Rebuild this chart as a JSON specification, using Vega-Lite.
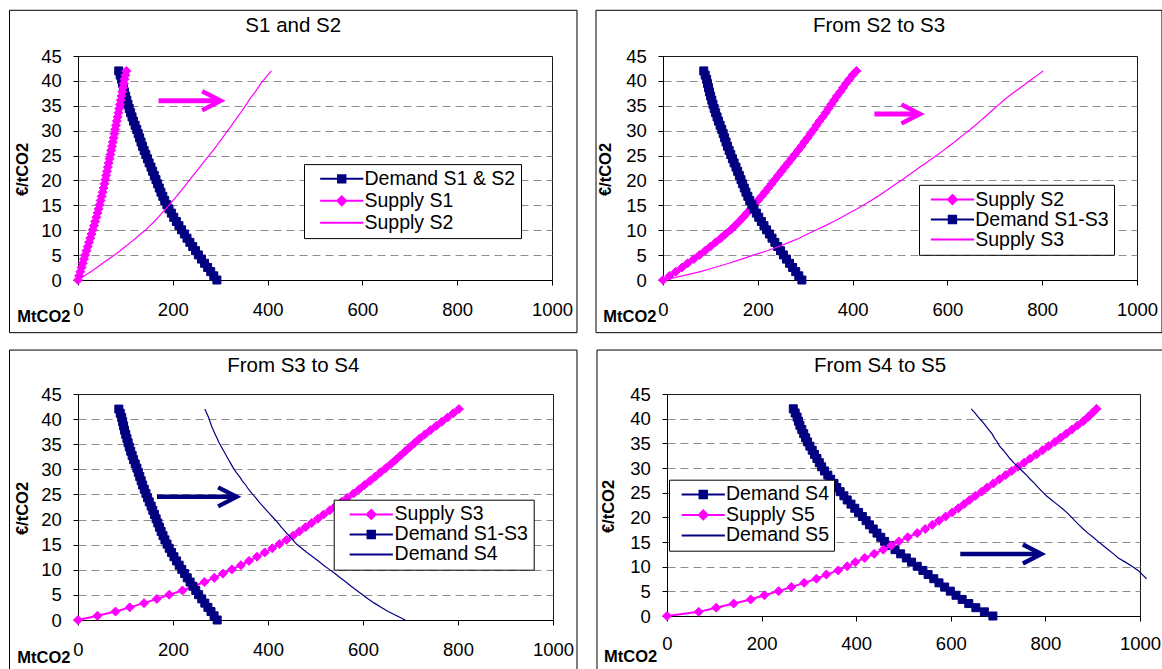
{
"$schema": "https://vega.github.io/schema/vega-lite/v6.json",
"padding": {"left": 8, "top": 9, "right": 0, "bottom": 0},
"background": "white",
"config": {
  "font": "Liberation Sans",
  "view": {"stroke": "#1a1a1a", "strokeWidth": 1, "fill": "white"},
  "axis": {"labelFont": "Liberation Sans", "labelFontSize": 18.5, "labelColor": "#000", "tickColor": "#000", "tickSize": 5, "tickWidth": 1, "domainColor": "#000", "domainWidth": 1, "titleFont": "Liberation Sans", "titleFontSize": 16.5, "titleFontWeight": "bold", "titleColor": "#000"},
  "axisX": {"grid": false, "labelFlush": false, "labelOverlap": false, "labelBaseline": "alphabetic", "titleAngle": 0, "titleAlign": "right", "titleBaseline": "alphabetic"},
  "axisY": {"grid": true, "gridDash": [8, 5], "gridWidth": 1, "labelPadding": 11.6, "labelOverlap": false, "titleAngle": -90, "titleAlign": "center", "titleBaseline": "middle"},
  "legend": {"orient": "none", "padding": 5, "fillColor": "#ffffff", "strokeColor": "#000000", "labelFont": "Liberation Sans", "labelFontSize": 19.5, "labelColor": "#000", "labelLimit": 500, "symbolStrokeWidth": 2, "symbolSize": 81},
  "title": {"font": "Liberation Sans", "fontSize": 20.5, "fontWeight": "normal", "color": "#000", "anchor": "middle", "baseline": "alphabetic", "frame": "bounds"}
},
"datasets": {
  "SS1": [{"q":0,"p":0},{"q":2.5,"p":0.84},{"q":5,"p":1.68},{"q":7.6,"p":2.52},{"q":10.1,"p":3.36},{"q":12.6,"p":4.2},{"q":15.1,"p":5.04},{"q":17.8,"p":5.88},{"q":20.5,"p":6.72},{"q":23.2,"p":7.56},{"q":25.9,"p":8.4},{"q":28.6,"p":9.24},{"q":31.2,"p":10.08},{"q":33.8,"p":10.92},{"q":36.4,"p":11.76},{"q":38.8,"p":12.6},{"q":41.2,"p":13.44},{"q":43.5,"p":14.28},{"q":45.7,"p":15.12},{"q":47.8,"p":15.96},{"q":49.9,"p":16.8},{"q":51.9,"p":17.64},{"q":53.9,"p":18.48},{"q":55.8,"p":19.32},{"q":57.6,"p":20.16},{"q":59.4,"p":21},{"q":61.2,"p":21.84},{"q":63,"p":22.68},{"q":64.8,"p":23.52},{"q":66.6,"p":24.36},{"q":68.4,"p":25.2},{"q":70.1,"p":26.04},{"q":71.8,"p":26.88},{"q":73.5,"p":27.72},{"q":75.2,"p":28.56},{"q":76.8,"p":29.4},{"q":78.5,"p":30.24},{"q":80.2,"p":31.08},{"q":81.9,"p":31.92},{"q":83.6,"p":32.76},{"q":85.3,"p":33.6},{"q":87,"p":34.44},{"q":88.6,"p":35.28},{"q":90.2,"p":36.12},{"q":91.8,"p":36.96},{"q":93.4,"p":37.8},{"q":95,"p":38.64},{"q":96.6,"p":39.48},{"q":98.2,"p":40.32},{"q":100,"p":41.16},{"q":102,"p":42}],
  "SS2": [{"q":0,"p":0},{"q":14,"p":0.84},{"q":27,"p":1.68},{"q":40,"p":2.52},{"q":52,"p":3.36},{"q":65,"p":4.2},{"q":77,"p":5.04},{"q":89,"p":5.88},{"q":100,"p":6.72},{"q":111,"p":7.56},{"q":122,"p":8.4},{"q":132,"p":9.24},{"q":143,"p":10.08},{"q":152,"p":10.92},{"q":161,"p":11.76},{"q":169,"p":12.6},{"q":177,"p":13.44},{"q":185,"p":14.28},{"q":193,"p":15.12},{"q":200,"p":15.96},{"q":208,"p":16.8},{"q":215,"p":17.64},{"q":222,"p":18.48},{"q":229,"p":19.32},{"q":236,"p":20.16},{"q":243,"p":21},{"q":250,"p":21.84},{"q":257,"p":22.68},{"q":264,"p":23.52},{"q":271,"p":24.36},{"q":278,"p":25.2},{"q":285,"p":26.04},{"q":292,"p":26.88},{"q":298,"p":27.72},{"q":305,"p":28.56},{"q":311,"p":29.4},{"q":318,"p":30.24},{"q":324,"p":31.08},{"q":330,"p":31.92},{"q":337,"p":32.76},{"q":343,"p":33.6},{"q":349,"p":34.44},{"q":355,"p":35.28},{"q":361,"p":36.12},{"q":367,"p":36.96},{"q":374,"p":37.8},{"q":380,"p":38.64},{"q":386,"p":39.48},{"q":393,"p":40.32},{"q":400,"p":41.16},{"q":408,"p":42}],
  "D13": [{"q":293,"p":0},{"q":286.5,"p":0.84},{"q":280,"p":1.68},{"q":273.5,"p":2.52},{"q":267,"p":3.36},{"q":260.5,"p":4.2},{"q":254,"p":5.04},{"q":248,"p":5.88},{"q":242,"p":6.72},{"q":236,"p":7.56},{"q":230,"p":8.4},{"q":224.5,"p":9.24},{"q":218.5,"p":10.08},{"q":213,"p":10.92},{"q":207.5,"p":11.76},{"q":202,"p":12.6},{"q":197,"p":13.44},{"q":192,"p":14.28},{"q":187.5,"p":15.12},{"q":183,"p":15.96},{"q":179,"p":16.8},{"q":175,"p":17.64},{"q":171.5,"p":18.48},{"q":168,"p":19.32},{"q":164.5,"p":20.16},{"q":161,"p":21},{"q":157.5,"p":21.84},{"q":154,"p":22.68},{"q":150,"p":23.52},{"q":146.5,"p":24.36},{"q":143,"p":25.2},{"q":139.5,"p":26.04},{"q":136,"p":26.88},{"q":133,"p":27.72},{"q":130,"p":28.56},{"q":127,"p":29.4},{"q":124,"p":30.24},{"q":120.5,"p":31.08},{"q":117,"p":31.92},{"q":114,"p":32.76},{"q":111,"p":33.6},{"q":108,"p":34.44},{"q":105.5,"p":35.28},{"q":103,"p":36.12},{"q":100.5,"p":36.96},{"q":98,"p":37.8},{"q":96,"p":38.64},{"q":94,"p":39.48},{"q":92,"p":40.32},{"q":89,"p":41.16},{"q":86,"p":42}],
  "SS3": [{"q":0,"p":0},{"q":41,"p":0.84},{"q":79,"p":1.68},{"q":109,"p":2.52},{"q":139,"p":3.36},{"q":166,"p":4.2},{"q":192,"p":5.04},{"q":220,"p":5.88},{"q":244,"p":6.72},{"q":266,"p":7.56},{"q":287,"p":8.4},{"q":305,"p":9.24},{"q":324,"p":10.08},{"q":343,"p":10.92},{"q":360,"p":11.76},{"q":377,"p":12.6},{"q":393,"p":13.44},{"q":409,"p":14.28},{"q":424,"p":15.12},{"q":439,"p":15.96},{"q":453,"p":16.8},{"q":466,"p":17.64},{"q":479,"p":18.48},{"q":492,"p":19.32},{"q":505,"p":20.16},{"q":517,"p":21},{"q":530,"p":21.84},{"q":542,"p":22.68},{"q":555,"p":23.52},{"q":567,"p":24.36},{"q":580,"p":25.2},{"q":592,"p":26.04},{"q":603,"p":26.88},{"q":615,"p":27.72},{"q":626,"p":28.56},{"q":637,"p":29.4},{"q":648,"p":30.24},{"q":659,"p":31.08},{"q":669,"p":31.92},{"q":679,"p":32.76},{"q":689,"p":33.6},{"q":699,"p":34.44},{"q":709,"p":35.28},{"q":719,"p":36.12},{"q":730,"p":36.96},{"q":742,"p":37.8},{"q":754,"p":38.64},{"q":766,"p":39.48},{"q":778,"p":40.32},{"q":790,"p":41.16},{"q":802,"p":42}],
  "D4": [{"q":689,"p":0},{"q":671,"p":0.84},{"q":653,"p":1.68},{"q":638,"p":2.52},{"q":624,"p":3.36},{"q":611,"p":4.2},{"q":599,"p":5.04},{"q":587,"p":5.88},{"q":575,"p":6.72},{"q":564,"p":7.56},{"q":552,"p":8.4},{"q":541,"p":9.24},{"q":529,"p":10.08},{"q":517,"p":10.92},{"q":506,"p":11.76},{"q":494,"p":12.6},{"q":482,"p":13.44},{"q":471,"p":14.28},{"q":460,"p":15.12},{"q":452,"p":15.96},{"q":444,"p":16.8},{"q":436,"p":17.64},{"q":428,"p":18.48},{"q":421,"p":19.32},{"q":413,"p":20.16},{"q":405,"p":21},{"q":397,"p":21.84},{"q":389,"p":22.68},{"q":381,"p":23.52},{"q":374,"p":24.36},{"q":366,"p":25.2},{"q":359,"p":26.04},{"q":353,"p":26.88},{"q":346,"p":27.72},{"q":340,"p":28.56},{"q":333,"p":29.4},{"q":327,"p":30.24},{"q":322,"p":31.08},{"q":317,"p":31.92},{"q":312,"p":32.76},{"q":307,"p":33.6},{"q":302,"p":34.44},{"q":297,"p":35.28},{"q":293,"p":36.12},{"q":289,"p":36.96},{"q":285,"p":37.8},{"q":281,"p":38.64},{"q":278,"p":39.48},{"q":275,"p":40.32},{"q":271,"p":41.16},{"q":267,"p":42}],
  "SS5": [{"q":0,"p":0},{"q":67,"p":0.84},{"q":104,"p":1.68},{"q":141,"p":2.52},{"q":177,"p":3.36},{"q":206,"p":4.2},{"q":236,"p":5.04},{"q":263,"p":5.88},{"q":290,"p":6.72},{"q":316,"p":7.56},{"q":337,"p":8.4},{"q":362,"p":9.24},{"q":381,"p":10.08},{"q":398,"p":10.92},{"q":418,"p":11.76},{"q":438,"p":12.6},{"q":457,"p":13.44},{"q":474,"p":14.28},{"q":490,"p":15.12},{"q":509,"p":15.96},{"q":529,"p":16.8},{"q":546,"p":17.64},{"q":561,"p":18.48},{"q":575,"p":19.32},{"q":589,"p":20.16},{"q":603,"p":21},{"q":616,"p":21.84},{"q":628,"p":22.68},{"q":640,"p":23.52},{"q":652,"p":24.36},{"q":665,"p":25.2},{"q":677,"p":26.04},{"q":690,"p":26.88},{"q":703,"p":27.72},{"q":716,"p":28.56},{"q":729,"p":29.4},{"q":742,"p":30.24},{"q":755,"p":31.08},{"q":768,"p":31.92},{"q":781,"p":32.76},{"q":794,"p":33.6},{"q":807,"p":34.44},{"q":820,"p":35.28},{"q":832,"p":36.12},{"q":844,"p":36.96},{"q":856,"p":37.8},{"q":868,"p":38.64},{"q":880,"p":39.48},{"q":890,"p":40.32},{"q":899,"p":41.16},{"q":908,"p":42}],
  "D5": [{"q":1014,"p":7.56},{"q":1005,"p":8.4},{"q":996,"p":9.24},{"q":983,"p":10.08},{"q":969,"p":10.92},{"q":954,"p":11.76},{"q":944,"p":12.6},{"q":933,"p":13.44},{"q":922,"p":14.28},{"q":911,"p":15.12},{"q":901,"p":15.96},{"q":890,"p":16.8},{"q":880,"p":17.64},{"q":871,"p":18.48},{"q":862,"p":19.32},{"q":854,"p":20.16},{"q":845,"p":21},{"q":835,"p":21.84},{"q":824,"p":22.68},{"q":813,"p":23.52},{"q":802,"p":24.36},{"q":793,"p":25.2},{"q":785,"p":26.04},{"q":777,"p":26.88},{"q":768,"p":27.72},{"q":760,"p":28.56},{"q":751,"p":29.4},{"q":742,"p":30.24},{"q":733,"p":31.08},{"q":725,"p":31.92},{"q":718,"p":32.76},{"q":711,"p":33.6},{"q":703,"p":34.44},{"q":698,"p":35.28},{"q":692,"p":36.12},{"q":687,"p":36.96},{"q":680,"p":37.8},{"q":673,"p":38.64},{"q":666,"p":39.48},{"q":658,"p":40.32},{"q":651,"p":41.16},{"q":643,"p":42}]
},
"spacing": 15,
"resolve": {"scale": {"fill": "independent", "stroke": "independent", "shape": "independent"}, "legend": {"fill": "independent", "stroke": "independent", "shape": "independent"}},
"vconcat": [
{"hconcat": [
{
  "width": 474, "height": 224,
  "title": {"text": "S1 and S2", "offset": -26.5},
  "layer": [
    {"data": {"values": [{}]}, "mark": {"type": "rect", "filled": false, "color": "#000", "strokeWidth": 1}, "encoding": {"x": {"datum": -144.5, "axis": {"title": "MtCO2", "values": [0, 200, 400, 600, 800, 1000], "format": "d", "labelPadding": 30.9, "titleX": -8, "titleY": 41}}, "x2": {"datum": 1052.7}, "y": {"datum": 54.18, "axis": {"title": "€/tCO2", "values": [0, 5, 10, 15, 20, 25, 30, 35, 40, 45], "format": "d", "titleX": -56, "titleY": 113, "gridColor": {"condition": {"test": "datum.value == 0 || datum.value == 45", "value": "transparent"}, "value": "#8c8c8c"}}}, "y2": {"datum": -10.58}}},
    {"data": {"name": "D13"}, "mark": {"type": "line", "color": "#000080", "strokeWidth": 2}, "encoding": {
      "x": {"field": "q", "type": "quantitative", "scale": {"domain": [0, 1000], "nice": false, "zero": false}, "axis": {"title": "MtCO2", "values": [0, 200, 400, 600, 800, 1000], "format": "d", "labelPadding": 30.9, "titleX": -8, "titleY": 41}},
      "y": {"field": "p", "type": "quantitative", "scale": {"domain": [0, 45], "nice": false, "zero": false}, "axis": {"title": "€/tCO2", "values": [0, 5, 10, 15, 20, 25, 30, 35, 40, 45], "format": "d", "titleX": -56, "titleY": 113, "gridColor": {"condition": {"test": "datum.value == 0 || datum.value == 45", "value": "transparent"}, "value": "#8c8c8c"}}},
      "order": {"field": "p", "type": "quantitative"}}},
    {"data": {"name": "D13"}, "mark": {"type": "point", "shape": "square", "filled": true, "size": 64, "color": "#000080", "stroke": "#000080", "strokeWidth": 1, "opacity": 1}, "encoding": {"x": {"field": "q", "type": "quantitative", "axis": {"title": "MtCO2", "values": [0, 200, 400, 600, 800, 1000], "format": "d", "labelPadding": 30.9, "titleX": -8, "titleY": 41}}, "y": {"field": "p", "type": "quantitative", "axis": {"title": "€/tCO2", "values": [0, 5, 10, 15, 20, 25, 30, 35, 40, 45], "format": "d", "titleX": -56, "titleY": 113, "gridColor": {"condition": {"test": "datum.value == 0 || datum.value == 45", "value": "transparent"}, "value": "#8c8c8c"}}}}},
    {"data": {"name": "SS1"}, "mark": {"type": "line", "color": "#ff00ff", "strokeWidth": 2}, "encoding": {"x": {"field": "q", "type": "quantitative", "axis": {"title": "MtCO2", "values": [0, 200, 400, 600, 800, 1000], "format": "d", "labelPadding": 30.9, "titleX": -8, "titleY": 41}}, "y": {"field": "p", "type": "quantitative", "axis": {"title": "€/tCO2", "values": [0, 5, 10, 15, 20, 25, 30, 35, 40, 45], "format": "d", "titleX": -56, "titleY": 113, "gridColor": {"condition": {"test": "datum.value == 0 || datum.value == 45", "value": "transparent"}, "value": "#8c8c8c"}}}, "order": {"field": "p", "type": "quantitative"}}},
    {"data": {"name": "SS1"}, "mark": {"type": "point", "shape": "diamond", "filled": true, "size": 81, "color": "#ff00ff", "stroke": "#ff00ff", "strokeWidth": 1, "opacity": 1}, "encoding": {"x": {"field": "q", "type": "quantitative", "axis": {"title": "MtCO2", "values": [0, 200, 400, 600, 800, 1000], "format": "d", "labelPadding": 30.9, "titleX": -8, "titleY": 41}}, "y": {"field": "p", "type": "quantitative", "axis": {"title": "€/tCO2", "values": [0, 5, 10, 15, 20, 25, 30, 35, 40, 45], "format": "d", "titleX": -56, "titleY": 113, "gridColor": {"condition": {"test": "datum.value == 0 || datum.value == 45", "value": "transparent"}, "value": "#8c8c8c"}}}}},
    {"data": {"name": "SS2"}, "mark": {"type": "line", "color": "#ff00ff", "strokeWidth": 1.2}, "encoding": {"x": {"field": "q", "type": "quantitative", "axis": {"title": "MtCO2", "values": [0, 200, 400, 600, 800, 1000], "format": "d", "labelPadding": 30.9, "titleX": -8, "titleY": 41}}, "y": {"field": "p", "type": "quantitative", "axis": {"title": "€/tCO2", "values": [0, 5, 10, 15, 20, 25, 30, 35, 40, 45], "format": "d", "titleX": -56, "titleY": 113, "gridColor": {"condition": {"test": "datum.value == 0 || datum.value == 45", "value": "transparent"}, "value": "#8c8c8c"}}}, "order": {"field": "p", "type": "quantitative"}}},
    {"data": {"values": [{}]}, "mark": {"type": "rule", "color": "#ff00ff", "strokeWidth": 5, "strokeCap": "butt"}, "encoding": {"x": {"datum": 170, "axis": {"title": "MtCO2", "values": [0, 200, 400, 600, 800, 1000], "format": "d", "labelPadding": 30.9, "titleX": -8, "titleY": 41}}, "x2": {"datum": 298}, "y": {"datum": 36.0, "axis": {"title": "€/tCO2", "values": [0, 5, 10, 15, 20, 25, 30, 35, 40, 45], "format": "d", "titleX": -56, "titleY": 113, "gridColor": {"condition": {"test": "datum.value == 0 || datum.value == 45", "value": "transparent"}, "value": "#8c8c8c"}}}}},
    {"data": {"values": [{}]}, "mark": {"type": "point", "shape": "M-1.85,-0.95L0,0L-1.85,0.95", "size": 400, "filled": false, "color": "#ff00ff", "strokeWidth": 4.5, "strokeJoin": "miter", "opacity": 1}, "encoding": {"x": {"datum": 301, "axis": {"title": "MtCO2", "values": [0, 200, 400, 600, 800, 1000], "format": "d", "labelPadding": 30.9, "titleX": -8, "titleY": 41}}, "y": {"datum": 36.0, "axis": {"title": "€/tCO2", "values": [0, 5, 10, 15, 20, 25, 30, 35, 40, 45], "format": "d", "titleX": -56, "titleY": 113, "gridColor": {"condition": {"test": "datum.value == 0 || datum.value == 45", "value": "transparent"}, "value": "#8c8c8c"}}}}},
    {"data": {"values": []}, "mark": {"type": "point", "filled": true, "opacity": 1, "size": 81, "strokeWidth": 2},
     "encoding": {
      "x": {"field": "q", "type": "quantitative", "axis": {"title": "MtCO2", "values": [0, 200, 400, 600, 800, 1000], "format": "d", "labelPadding": 30.9, "titleX": -8, "titleY": 41}}, "y": {"field": "p", "type": "quantitative", "axis": {"title": "€/tCO2", "values": [0, 5, 10, 15, 20, 25, 30, 35, 40, 45], "format": "d", "titleX": -56, "titleY": 113, "gridColor": {"condition": {"test": "datum.value == 0 || datum.value == 45", "value": "transparent"}, "value": "#8c8c8c"}}},
      "fill": {"field": "s", "type": "nominal", "scale": {"domain": ["Demand S1 & S2", "Supply S1", "Supply S2"], "range": ["#000080", "#ff00ff", "#ff00ff"]}, "legend": {"title": null, "legendX": 226, "legendY": 108.1, "symbolOffset": 23, "labelOffset": 13, "rowPadding": 1}},
      "stroke": {"field": "s", "type": "nominal", "scale": {"domain": ["Demand S1 & S2", "Supply S1", "Supply S2"], "range": ["#000080", "#ff00ff", "#ff00ff"]}, "legend": {"title": null, "legendX": 226, "legendY": 108.1, "symbolOffset": 23, "labelOffset": 13, "rowPadding": 1}},
      "shape": {"field": "s", "type": "nominal", "scale": {"domain": ["Demand S1 & S2", "Supply S1", "Supply S2"], "range": ["M-4.8,0H4.8M-0.82,-0.82H0.82V0.82H-0.82Z", "M-4.8,0H4.8M0,-1L1,0L0,1L-1,0Z", "M-4.8,0H4.8"]}, "legend": {"title": null, "legendX": 226, "legendY": 108.1, "symbolOffset": 23, "labelOffset": 13, "rowPadding": 1}}
     }}
  ]
},
{
  "width": 474, "height": 224,
  "title": {"text": "From S2 to S3", "offset": -26.5},
  "layer": [
    {"data": {"values": [{}]}, "mark": {"type": "rect", "filled": false, "color": "#000", "strokeWidth": 1}, "encoding": {"x": {"datum": -141.35, "axis": {"title": "MtCO2", "values": [0, 200, 400, 600, 800, 1000], "format": "d", "labelPadding": 30.6, "titleX": -7, "titleY": 41}}, "x2": {"datum": 1052.7}, "y": {"datum": 54.18, "axis": {"title": "€/tCO2", "values": [0, 5, 10, 15, 20, 25, 30, 35, 40, 45], "format": "d", "titleX": -57.3, "titleY": 113, "gridColor": {"condition": {"test": "datum.value == 0 || datum.value == 45", "value": "transparent"}, "value": "#8c8c8c"}}}, "y2": {"datum": -10.58}}},
    {"data": {"name": "SS2"}, "mark": {"type": "line", "color": "#ff00ff", "strokeWidth": 2}, "encoding": {
      "x": {"field": "q", "type": "quantitative", "scale": {"domain": [0, 1000], "nice": false, "zero": false}, "axis": {"title": "MtCO2", "values": [0, 200, 400, 600, 800, 1000], "format": "d", "labelPadding": 30.6, "titleX": -7, "titleY": 41}},
      "y": {"field": "p", "type": "quantitative", "scale": {"domain": [0, 45], "nice": false, "zero": false}, "axis": {"title": "€/tCO2", "values": [0, 5, 10, 15, 20, 25, 30, 35, 40, 45], "format": "d", "titleX": -57.3, "titleY": 113, "gridColor": {"condition": {"test": "datum.value == 0 || datum.value == 45", "value": "transparent"}, "value": "#8c8c8c"}}},
      "order": {"field": "p", "type": "quantitative"}}},
    {"data": {"name": "SS2"}, "mark": {"type": "point", "shape": "diamond", "filled": true, "size": 81, "color": "#ff00ff", "stroke": "#ff00ff", "strokeWidth": 1, "opacity": 1}, "encoding": {"x": {"field": "q", "type": "quantitative", "axis": {"title": "MtCO2", "values": [0, 200, 400, 600, 800, 1000], "format": "d", "labelPadding": 30.6, "titleX": -7, "titleY": 41}}, "y": {"field": "p", "type": "quantitative", "axis": {"title": "€/tCO2", "values": [0, 5, 10, 15, 20, 25, 30, 35, 40, 45], "format": "d", "titleX": -57.3, "titleY": 113, "gridColor": {"condition": {"test": "datum.value == 0 || datum.value == 45", "value": "transparent"}, "value": "#8c8c8c"}}}}},
    {"data": {"name": "D13"}, "mark": {"type": "line", "color": "#000080", "strokeWidth": 2}, "encoding": {"x": {"field": "q", "type": "quantitative", "axis": {"title": "MtCO2", "values": [0, 200, 400, 600, 800, 1000], "format": "d", "labelPadding": 30.6, "titleX": -7, "titleY": 41}}, "y": {"field": "p", "type": "quantitative", "axis": {"title": "€/tCO2", "values": [0, 5, 10, 15, 20, 25, 30, 35, 40, 45], "format": "d", "titleX": -57.3, "titleY": 113, "gridColor": {"condition": {"test": "datum.value == 0 || datum.value == 45", "value": "transparent"}, "value": "#8c8c8c"}}}, "order": {"field": "p", "type": "quantitative"}}},
    {"data": {"name": "D13"}, "mark": {"type": "point", "shape": "square", "filled": true, "size": 64, "color": "#000080", "stroke": "#000080", "strokeWidth": 1, "opacity": 1}, "encoding": {"x": {"field": "q", "type": "quantitative", "axis": {"title": "MtCO2", "values": [0, 200, 400, 600, 800, 1000], "format": "d", "labelPadding": 30.6, "titleX": -7, "titleY": 41}}, "y": {"field": "p", "type": "quantitative", "axis": {"title": "€/tCO2", "values": [0, 5, 10, 15, 20, 25, 30, 35, 40, 45], "format": "d", "titleX": -57.3, "titleY": 113, "gridColor": {"condition": {"test": "datum.value == 0 || datum.value == 45", "value": "transparent"}, "value": "#8c8c8c"}}}}},
    {"data": {"name": "SS3"}, "mark": {"type": "line", "color": "#ff00ff", "strokeWidth": 1.2}, "encoding": {"x": {"field": "q", "type": "quantitative", "axis": {"title": "MtCO2", "values": [0, 200, 400, 600, 800, 1000], "format": "d", "labelPadding": 30.6, "titleX": -7, "titleY": 41}}, "y": {"field": "p", "type": "quantitative", "axis": {"title": "€/tCO2", "values": [0, 5, 10, 15, 20, 25, 30, 35, 40, 45], "format": "d", "titleX": -57.3, "titleY": 113, "gridColor": {"condition": {"test": "datum.value == 0 || datum.value == 45", "value": "transparent"}, "value": "#8c8c8c"}}}, "order": {"field": "p", "type": "quantitative"}}},
    {"data": {"values": [{}]}, "mark": {"type": "rule", "color": "#ff00ff", "strokeWidth": 5, "strokeCap": "butt"}, "encoding": {"x": {"datum": 446, "axis": {"title": "MtCO2", "values": [0, 200, 400, 600, 800, 1000], "format": "d", "labelPadding": 30.6, "titleX": -7, "titleY": 41}}, "x2": {"datum": 540}, "y": {"datum": 33.37, "axis": {"title": "€/tCO2", "values": [0, 5, 10, 15, 20, 25, 30, 35, 40, 45], "format": "d", "titleX": -57.3, "titleY": 113, "gridColor": {"condition": {"test": "datum.value == 0 || datum.value == 45", "value": "transparent"}, "value": "#8c8c8c"}}}}},
    {"data": {"values": [{}]}, "mark": {"type": "point", "shape": "M-1.85,-0.95L0,0L-1.85,0.95", "size": 400, "filled": false, "color": "#ff00ff", "strokeWidth": 4.5, "strokeJoin": "miter", "opacity": 1}, "encoding": {"x": {"datum": 542, "axis": {"title": "MtCO2", "values": [0, 200, 400, 600, 800, 1000], "format": "d", "labelPadding": 30.6, "titleX": -7, "titleY": 41}}, "y": {"datum": 33.37, "axis": {"title": "€/tCO2", "values": [0, 5, 10, 15, 20, 25, 30, 35, 40, 45], "format": "d", "titleX": -57.3, "titleY": 113, "gridColor": {"condition": {"test": "datum.value == 0 || datum.value == 45", "value": "transparent"}, "value": "#8c8c8c"}}}}},
    {"data": {"values": []}, "mark": {"type": "point", "filled": true, "opacity": 1, "size": 81, "strokeWidth": 2},
     "encoding": {
      "x": {"field": "q", "type": "quantitative", "axis": {"title": "MtCO2", "values": [0, 200, 400, 600, 800, 1000], "format": "d", "labelPadding": 30.6, "titleX": -7, "titleY": 41}}, "y": {"field": "p", "type": "quantitative", "axis": {"title": "€/tCO2", "values": [0, 5, 10, 15, 20, 25, 30, 35, 40, 45], "format": "d", "titleX": -57.3, "titleY": 113, "gridColor": {"condition": {"test": "datum.value == 0 || datum.value == 45", "value": "transparent"}, "value": "#8c8c8c"}}},
      "fill": {"field": "s", "type": "nominal", "scale": {"domain": ["Supply S2", "Demand S1-S3", "Supply S3"], "range": ["#ff00ff", "#000080", "#ff00ff"]}, "legend": {"title": null, "legendX": 256, "legendY": 128.8, "symbolOffset": 18.7, "labelOffset": 13, "rowPadding": -2}},
      "stroke": {"field": "s", "type": "nominal", "scale": {"domain": ["Supply S2", "Demand S1-S3", "Supply S3"], "range": ["#ff00ff", "#000080", "#ff00ff"]}, "legend": {"title": null, "legendX": 256, "legendY": 128.8, "symbolOffset": 18.7, "labelOffset": 13, "rowPadding": -2}},
      "shape": {"field": "s", "type": "nominal", "scale": {"domain": ["Supply S2", "Demand S1-S3", "Supply S3"], "range": ["M-4.8,0H4.8M0,-1L1,0L0,1L-1,0Z", "M-4.8,0H4.8M-0.82,-0.82H0.82V0.82H-0.82Z", "M-4.8,0H4.8"]}, "legend": {"title": null, "legendX": 256, "legendY": 128.8, "symbolOffset": 18.7, "labelOffset": 13, "rowPadding": -2}}
     }}
  ]
}
], "spacing": 17,
"resolve": {"scale": {"fill": "independent", "stroke": "independent", "shape": "independent"}, "legend": {"fill": "independent", "stroke": "independent", "shape": "independent"}}},
{"hconcat": [
{
  "width": 475, "height": 226,
  "title": {"text": "From S3 to S4", "offset": -26.5},
  "layer": [
    {"data": {"values": [{}]}, "mark": {"type": "rule", "color": "#000", "strokeWidth": 1}, "encoding": {"x": {"datum": -144.2, "axis": {"title": "MtCO2", "values": [0, 200, 400, 600, 800, 1000], "format": "d", "labelPadding": 30.3, "titleX": -8, "titleY": 42}}, "y": {"datum": -9.84, "axis": {"title": "€/tCO2", "values": [0, 5, 10, 15, 20, 25, 30, 35, 40, 45], "format": "d", "titleX": -56, "titleY": 114, "gridColor": {"condition": {"test": "datum.value == 0 || datum.value == 45", "value": "transparent"}, "value": "#8c8c8c"}}}, "y2": {"datum": 53.75}}},
    {"data": {"values": [{}]}, "mark": {"type": "rule", "color": "#000", "strokeWidth": 1}, "encoding": {"x": {"datum": 1050.5, "axis": {"title": "MtCO2", "values": [0, 200, 400, 600, 800, 1000], "format": "d", "labelPadding": 30.3, "titleX": -8, "titleY": 42}}, "y": {"datum": -9.84, "axis": {"title": "€/tCO2", "values": [0, 5, 10, 15, 20, 25, 30, 35, 40, 45], "format": "d", "titleX": -56, "titleY": 114, "gridColor": {"condition": {"test": "datum.value == 0 || datum.value == 45", "value": "transparent"}, "value": "#8c8c8c"}}}, "y2": {"datum": 53.75}}},
    {"data": {"values": [{}]}, "mark": {"type": "rule", "color": "#000", "strokeWidth": 1}, "encoding": {"x": {"datum": -144.2, "axis": {"title": "MtCO2", "values": [0, 200, 400, 600, 800, 1000], "format": "d", "labelPadding": 30.3, "titleX": -8, "titleY": 42}}, "x2": {"datum": 1050.5}, "y": {"datum": 53.75, "axis": {"title": "€/tCO2", "values": [0, 5, 10, 15, 20, 25, 30, 35, 40, 45], "format": "d", "titleX": -56, "titleY": 114, "gridColor": {"condition": {"test": "datum.value == 0 || datum.value == 45", "value": "transparent"}, "value": "#8c8c8c"}}}}},
    {"data": {"name": "SS3"}, "mark": {"type": "line", "color": "#ff00ff", "strokeWidth": 2}, "encoding": {
      "x": {"field": "q", "type": "quantitative", "scale": {"domain": [0, 1000], "nice": false, "zero": false}, "axis": {"title": "MtCO2", "values": [0, 200, 400, 600, 800, 1000], "format": "d", "labelPadding": 30.3, "titleX": -8, "titleY": 42}},
      "y": {"field": "p", "type": "quantitative", "scale": {"domain": [0, 45], "nice": false, "zero": false}, "axis": {"title": "€/tCO2", "values": [0, 5, 10, 15, 20, 25, 30, 35, 40, 45], "format": "d", "titleX": -56, "titleY": 114, "gridColor": {"condition": {"test": "datum.value == 0 || datum.value == 45", "value": "transparent"}, "value": "#8c8c8c"}}},
      "order": {"field": "p", "type": "quantitative"}}},
    {"data": {"name": "SS3"}, "mark": {"type": "point", "shape": "diamond", "filled": true, "size": 81, "color": "#ff00ff", "stroke": "#ff00ff", "strokeWidth": 1, "opacity": 1}, "encoding": {"x": {"field": "q", "type": "quantitative", "axis": {"title": "MtCO2", "values": [0, 200, 400, 600, 800, 1000], "format": "d", "labelPadding": 30.3, "titleX": -8, "titleY": 42}}, "y": {"field": "p", "type": "quantitative", "axis": {"title": "€/tCO2", "values": [0, 5, 10, 15, 20, 25, 30, 35, 40, 45], "format": "d", "titleX": -56, "titleY": 114, "gridColor": {"condition": {"test": "datum.value == 0 || datum.value == 45", "value": "transparent"}, "value": "#8c8c8c"}}}}},
    {"data": {"name": "D13"}, "mark": {"type": "line", "color": "#000080", "strokeWidth": 2}, "encoding": {"x": {"field": "q", "type": "quantitative", "axis": {"title": "MtCO2", "values": [0, 200, 400, 600, 800, 1000], "format": "d", "labelPadding": 30.3, "titleX": -8, "titleY": 42}}, "y": {"field": "p", "type": "quantitative", "axis": {"title": "€/tCO2", "values": [0, 5, 10, 15, 20, 25, 30, 35, 40, 45], "format": "d", "titleX": -56, "titleY": 114, "gridColor": {"condition": {"test": "datum.value == 0 || datum.value == 45", "value": "transparent"}, "value": "#8c8c8c"}}}, "order": {"field": "p", "type": "quantitative"}}},
    {"data": {"name": "D13"}, "mark": {"type": "point", "shape": "square", "filled": true, "size": 64, "color": "#000080", "stroke": "#000080", "strokeWidth": 1, "opacity": 1}, "encoding": {"x": {"field": "q", "type": "quantitative", "axis": {"title": "MtCO2", "values": [0, 200, 400, 600, 800, 1000], "format": "d", "labelPadding": 30.3, "titleX": -8, "titleY": 42}}, "y": {"field": "p", "type": "quantitative", "axis": {"title": "€/tCO2", "values": [0, 5, 10, 15, 20, 25, 30, 35, 40, 45], "format": "d", "titleX": -56, "titleY": 114, "gridColor": {"condition": {"test": "datum.value == 0 || datum.value == 45", "value": "transparent"}, "value": "#8c8c8c"}}}}},
    {"data": {"name": "D4"}, "mark": {"type": "line", "color": "#000080", "strokeWidth": 1.2}, "encoding": {"x": {"field": "q", "type": "quantitative", "axis": {"title": "MtCO2", "values": [0, 200, 400, 600, 800, 1000], "format": "d", "labelPadding": 30.3, "titleX": -8, "titleY": 42}}, "y": {"field": "p", "type": "quantitative", "axis": {"title": "€/tCO2", "values": [0, 5, 10, 15, 20, 25, 30, 35, 40, 45], "format": "d", "titleX": -56, "titleY": 114, "gridColor": {"condition": {"test": "datum.value == 0 || datum.value == 45", "value": "transparent"}, "value": "#8c8c8c"}}}, "order": {"field": "p", "type": "quantitative"}}},
    {"data": {"values": [{}]}, "mark": {"type": "rule", "color": "#000080", "strokeWidth": 4.5, "strokeCap": "butt"}, "encoding": {"x": {"datum": 166.3, "axis": {"title": "MtCO2", "values": [0, 200, 400, 600, 800, 1000], "format": "d", "labelPadding": 30.3, "titleX": -8, "titleY": 42}}, "x2": {"datum": 332}, "y": {"datum": 24.52, "axis": {"title": "€/tCO2", "values": [0, 5, 10, 15, 20, 25, 30, 35, 40, 45], "format": "d", "titleX": -56, "titleY": 114, "gridColor": {"condition": {"test": "datum.value == 0 || datum.value == 45", "value": "transparent"}, "value": "#8c8c8c"}}}}},
    {"data": {"values": [{}]}, "mark": {"type": "point", "shape": "M-1.85,-0.95L0,0L-1.85,0.95", "size": 400, "filled": false, "color": "#000080", "strokeWidth": 4.3, "strokeJoin": "miter", "opacity": 1}, "encoding": {"x": {"datum": 334, "axis": {"title": "MtCO2", "values": [0, 200, 400, 600, 800, 1000], "format": "d", "labelPadding": 30.3, "titleX": -8, "titleY": 42}}, "y": {"datum": 24.52, "axis": {"title": "€/tCO2", "values": [0, 5, 10, 15, 20, 25, 30, 35, 40, 45], "format": "d", "titleX": -56, "titleY": 114, "gridColor": {"condition": {"test": "datum.value == 0 || datum.value == 45", "value": "transparent"}, "value": "#8c8c8c"}}}}},
    {"data": {"values": []}, "mark": {"type": "point", "filled": true, "opacity": 1, "size": 81, "strokeWidth": 2},
     "encoding": {
      "x": {"field": "q", "type": "quantitative", "axis": {"title": "MtCO2", "values": [0, 200, 400, 600, 800, 1000], "format": "d", "labelPadding": 30.3, "titleX": -8, "titleY": 42}}, "y": {"field": "p", "type": "quantitative", "axis": {"title": "€/tCO2", "values": [0, 5, 10, 15, 20, 25, 30, 35, 40, 45], "format": "d", "titleX": -56, "titleY": 114, "gridColor": {"condition": {"test": "datum.value == 0 || datum.value == 45", "value": "transparent"}, "value": "#8c8c8c"}}},
      "fill": {"field": "s", "type": "nominal", "scale": {"domain": ["Supply S3", "Demand S1-S3", "Demand S4"], "range": ["#ff00ff", "#000080", "#000080"]}, "legend": {"title": null, "legendX": 255.7, "legendY": 105.7, "symbolOffset": 22.8, "labelOffset": 13.6, "rowPadding": -2.7}},
      "stroke": {"field": "s", "type": "nominal", "scale": {"domain": ["Supply S3", "Demand S1-S3", "Demand S4"], "range": ["#ff00ff", "#000080", "#000080"]}, "legend": {"title": null, "legendX": 255.7, "legendY": 105.7, "symbolOffset": 22.8, "labelOffset": 13.6, "rowPadding": -2.7}},
      "shape": {"field": "s", "type": "nominal", "scale": {"domain": ["Supply S3", "Demand S1-S3", "Demand S4"], "range": ["M-4.8,0H4.8M0,-1L1,0L0,1L-1,0Z", "M-4.8,0H4.8M-0.82,-0.82H0.82V0.82H-0.82Z", "M-4.8,0H4.8"]}, "legend": {"title": null, "legendX": 255.7, "legendY": 105.7, "symbolOffset": 22.8, "labelOffset": 13.6, "rowPadding": -2.7}}
     }}
  ]
},
{
  "width": 473, "height": 222,
  "title": {"text": "From S4 to S5", "offset": -26.5},
  "layer": [
    {"data": {"values": [{}]}, "mark": {"type": "rule", "color": "#000", "strokeWidth": 1}, "encoding": {"x": {"datum": -148.0, "axis": {"title": "MtCO2", "values": [0, 200, 400, 600, 800, 1000], "format": "d", "labelPadding": 28.6, "titleX": -10.3, "titleY": 45.3}}, "y": {"datum": -10.83, "axis": {"title": "€/tCO2", "values": [0, 5, 10, 15, 20, 25, 30, 35, 40, 45], "format": "d", "titleX": -58.4, "titleY": 112, "gridColor": {"condition": {"test": "datum.value == 0 || datum.value == 45", "value": "transparent"}, "value": "#8c8c8c"}}}, "y2": {"datum": 53.91}}},
    {"data": {"values": [{}]}, "mark": {"type": "rule", "color": "#000", "strokeWidth": 1}, "encoding": {"x": {"datum": 1048.6, "axis": {"title": "MtCO2", "values": [0, 200, 400, 600, 800, 1000], "format": "d", "labelPadding": 28.6, "titleX": -10.3, "titleY": 45.3}}, "y": {"datum": -10.83, "axis": {"title": "€/tCO2", "values": [0, 5, 10, 15, 20, 25, 30, 35, 40, 45], "format": "d", "titleX": -58.4, "titleY": 112, "gridColor": {"condition": {"test": "datum.value == 0 || datum.value == 45", "value": "transparent"}, "value": "#8c8c8c"}}}, "y2": {"datum": 53.91}}},
    {"data": {"values": [{}]}, "mark": {"type": "rule", "color": "#000", "strokeWidth": 1}, "encoding": {"x": {"datum": -148.0, "axis": {"title": "MtCO2", "values": [0, 200, 400, 600, 800, 1000], "format": "d", "labelPadding": 28.6, "titleX": -10.3, "titleY": 45.3}}, "x2": {"datum": 1048.6}, "y": {"datum": 53.91, "axis": {"title": "€/tCO2", "values": [0, 5, 10, 15, 20, 25, 30, 35, 40, 45], "format": "d", "titleX": -58.4, "titleY": 112, "gridColor": {"condition": {"test": "datum.value == 0 || datum.value == 45", "value": "transparent"}, "value": "#8c8c8c"}}}}},
    {"data": {"name": "D4"}, "mark": {"type": "line", "color": "#000080", "strokeWidth": 2}, "encoding": {
      "x": {"field": "q", "type": "quantitative", "scale": {"domain": [0, 1000], "nice": false, "zero": false}, "axis": {"title": "MtCO2", "values": [0, 200, 400, 600, 800, 1000], "format": "d", "labelPadding": 28.6, "titleX": -10.3, "titleY": 45.3}},
      "y": {"field": "p", "type": "quantitative", "scale": {"domain": [0, 45], "nice": false, "zero": false}, "axis": {"title": "€/tCO2", "values": [0, 5, 10, 15, 20, 25, 30, 35, 40, 45], "format": "d", "titleX": -58.4, "titleY": 112, "gridColor": {"condition": {"test": "datum.value == 0 || datum.value == 45", "value": "transparent"}, "value": "#8c8c8c"}}},
      "order": {"field": "p", "type": "quantitative"}}},
    {"data": {"name": "D4"}, "mark": {"type": "point", "shape": "square", "filled": true, "size": 64, "color": "#000080", "stroke": "#000080", "strokeWidth": 1, "opacity": 1}, "encoding": {"x": {"field": "q", "type": "quantitative", "axis": {"title": "MtCO2", "values": [0, 200, 400, 600, 800, 1000], "format": "d", "labelPadding": 28.6, "titleX": -10.3, "titleY": 45.3}}, "y": {"field": "p", "type": "quantitative", "axis": {"title": "€/tCO2", "values": [0, 5, 10, 15, 20, 25, 30, 35, 40, 45], "format": "d", "titleX": -58.4, "titleY": 112, "gridColor": {"condition": {"test": "datum.value == 0 || datum.value == 45", "value": "transparent"}, "value": "#8c8c8c"}}}}},
    {"data": {"name": "SS5"}, "mark": {"type": "line", "color": "#ff00ff", "strokeWidth": 2}, "encoding": {"x": {"field": "q", "type": "quantitative", "axis": {"title": "MtCO2", "values": [0, 200, 400, 600, 800, 1000], "format": "d", "labelPadding": 28.6, "titleX": -10.3, "titleY": 45.3}}, "y": {"field": "p", "type": "quantitative", "axis": {"title": "€/tCO2", "values": [0, 5, 10, 15, 20, 25, 30, 35, 40, 45], "format": "d", "titleX": -58.4, "titleY": 112, "gridColor": {"condition": {"test": "datum.value == 0 || datum.value == 45", "value": "transparent"}, "value": "#8c8c8c"}}}, "order": {"field": "p", "type": "quantitative"}}},
    {"data": {"name": "SS5"}, "mark": {"type": "point", "shape": "diamond", "filled": true, "size": 81, "color": "#ff00ff", "stroke": "#ff00ff", "strokeWidth": 1, "opacity": 1}, "encoding": {"x": {"field": "q", "type": "quantitative", "axis": {"title": "MtCO2", "values": [0, 200, 400, 600, 800, 1000], "format": "d", "labelPadding": 28.6, "titleX": -10.3, "titleY": 45.3}}, "y": {"field": "p", "type": "quantitative", "axis": {"title": "€/tCO2", "values": [0, 5, 10, 15, 20, 25, 30, 35, 40, 45], "format": "d", "titleX": -58.4, "titleY": 112, "gridColor": {"condition": {"test": "datum.value == 0 || datum.value == 45", "value": "transparent"}, "value": "#8c8c8c"}}}}},
    {"data": {"name": "D5"}, "mark": {"type": "line", "color": "#000080", "strokeWidth": 1.2}, "encoding": {"x": {"field": "q", "type": "quantitative", "axis": {"title": "MtCO2", "values": [0, 200, 400, 600, 800, 1000], "format": "d", "labelPadding": 28.6, "titleX": -10.3, "titleY": 45.3}}, "y": {"field": "p", "type": "quantitative", "axis": {"title": "€/tCO2", "values": [0, 5, 10, 15, 20, 25, 30, 35, 40, 45], "format": "d", "titleX": -58.4, "titleY": 112, "gridColor": {"condition": {"test": "datum.value == 0 || datum.value == 45", "value": "transparent"}, "value": "#8c8c8c"}}}, "order": {"field": "p", "type": "quantitative"}}},
    {"data": {"values": [{}]}, "mark": {"type": "rule", "color": "#000080", "strokeWidth": 4.5, "strokeCap": "butt"}, "encoding": {"x": {"datum": 620, "axis": {"title": "MtCO2", "values": [0, 200, 400, 600, 800, 1000], "format": "d", "labelPadding": 28.6, "titleX": -10.3, "titleY": 45.3}}, "x2": {"datum": 789}, "y": {"datum": 12.57, "axis": {"title": "€/tCO2", "values": [0, 5, 10, 15, 20, 25, 30, 35, 40, 45], "format": "d", "titleX": -58.4, "titleY": 112, "gridColor": {"condition": {"test": "datum.value == 0 || datum.value == 45", "value": "transparent"}, "value": "#8c8c8c"}}}}},
    {"data": {"values": [{}]}, "mark": {"type": "point", "shape": "M-1.85,-0.95L0,0L-1.85,0.95", "size": 400, "filled": false, "color": "#000080", "strokeWidth": 4.3, "strokeJoin": "miter", "opacity": 1}, "encoding": {"x": {"datum": 791.5, "axis": {"title": "MtCO2", "values": [0, 200, 400, 600, 800, 1000], "format": "d", "labelPadding": 28.6, "titleX": -10.3, "titleY": 45.3}}, "y": {"datum": 12.57, "axis": {"title": "€/tCO2", "values": [0, 5, 10, 15, 20, 25, 30, 35, 40, 45], "format": "d", "titleX": -58.4, "titleY": 112, "gridColor": {"condition": {"test": "datum.value == 0 || datum.value == 45", "value": "transparent"}, "value": "#8c8c8c"}}}}},
    {"data": {"values": []}, "mark": {"type": "point", "filled": true, "opacity": 1, "size": 81, "strokeWidth": 2},
     "encoding": {
      "x": {"field": "q", "type": "quantitative", "axis": {"title": "MtCO2", "values": [0, 200, 400, 600, 800, 1000], "format": "d", "labelPadding": 28.6, "titleX": -10.3, "titleY": 45.3}}, "y": {"field": "p", "type": "quantitative", "axis": {"title": "€/tCO2", "values": [0, 5, 10, 15, 20, 25, 30, 35, 40, 45], "format": "d", "titleX": -58.4, "titleY": 112, "gridColor": {"condition": {"test": "datum.value == 0 || datum.value == 45", "value": "transparent"}, "value": "#8c8c8c"}}},
      "fill": {"field": "s", "type": "nominal", "scale": {"domain": ["Demand S4", "Supply S5", "Demand S5"], "range": ["#000080", "#ff00ff", "#000080"]}, "legend": {"title": null, "legendX": 2, "legendY": 85.7, "symbolOffset": 19.5, "labelOffset": 13, "rowPadding": -0.5}},
      "stroke": {"field": "s", "type": "nominal", "scale": {"domain": ["Demand S4", "Supply S5", "Demand S5"], "range": ["#000080", "#ff00ff", "#000080"]}, "legend": {"title": null, "legendX": 2, "legendY": 85.7, "symbolOffset": 19.5, "labelOffset": 13, "rowPadding": -0.5}},
      "shape": {"field": "s", "type": "nominal", "scale": {"domain": ["Demand S4", "Supply S5", "Demand S5"], "range": ["M-4.8,0H4.8M-0.82,-0.82H0.82V0.82H-0.82Z", "M-4.8,0H4.8M0,-1L1,0L0,1L-1,0Z", "M-4.8,0H4.8"]}, "legend": {"title": null, "legendX": 2, "legendY": 85.7, "symbolOffset": 19.5, "labelOffset": 13, "rowPadding": -0.5}}
     }}
  ]
}
], "spacing": 17,
"resolve": {"scale": {"fill": "independent", "stroke": "independent", "shape": "independent"}, "legend": {"fill": "independent", "stroke": "independent", "shape": "independent"}}}
]
}
